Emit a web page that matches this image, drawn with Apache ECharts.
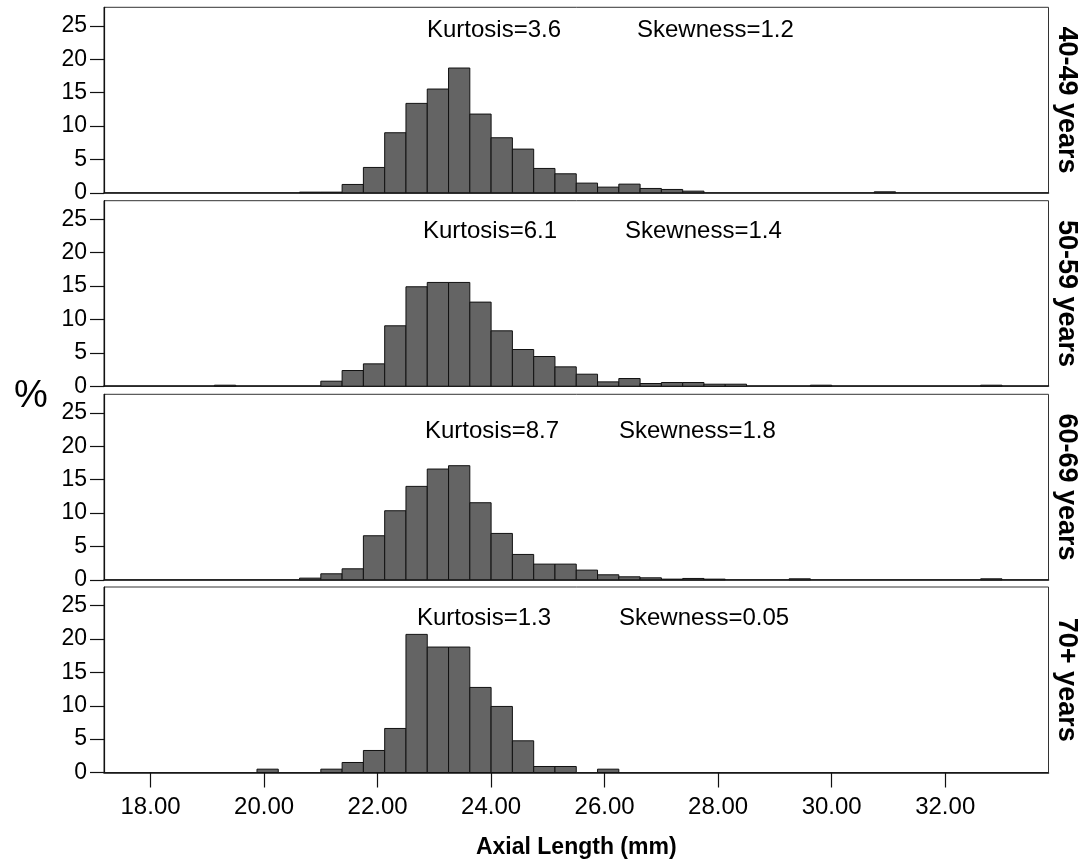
<!DOCTYPE html>
<html><head><meta charset="utf-8">
<script src="https://cdn.jsdelivr.net/npm/echarts@6/dist/echarts.min.js"></script>
<style>html,body{margin:0;padding:0;background:#fff}#c{width:1086px;height:864px}</style>
</head><body><div id="c"></div>
<script>
// ---------- data ----------
const BIN_WIDTH = 0.375;
const panelLabels = ['40-49 years', '50-59 years', '60-69 years', '70+ years'];
const kurtosisTexts = ['Kurtosis=3.6', 'Kurtosis=6.1', 'Kurtosis=8.7', 'Kurtosis=1.3'];
const skewnessTexts = ['Skewness=1.2', 'Skewness=1.4', 'Skewness=1.8', 'Skewness=0.05'];
const xTickValues = [18, 20, 22, 24, 26, 28, 30, 32];
const xTickLabels = ['18.00', '20.00', '22.00', '24.00', '26.00', '28.00', '30.00', '32.00'];
const yTickValues = [0, 5, 10, 15, 20, 25];
const xAxisTitle = 'Axial Length (mm)';
const yAxisTitle = '%';

const bins4049 = [20.625, 21.0, 21.375, 21.75, 22.125, 22.5, 22.875, 23.25, 23.625, 24.0, 24.375, 24.75, 25.125, 25.5, 25.875, 26.25, 26.625, 27.0, 27.375, 30.75];
const pct4049  = [0.1, 0.1, 1.25, 3.8, 9.0, 13.4, 15.55, 18.7, 11.8, 8.25, 6.55, 3.65, 2.85, 1.45, 0.85, 1.3, 0.65, 0.5, 0.25, 0.15];

const bins5059 = [19.125, 21.0, 21.375, 21.75, 22.125, 22.5, 22.875, 23.25, 23.625, 24.0, 24.375, 24.75, 25.125, 25.5, 25.875, 26.25, 26.625, 27.0, 27.375, 27.75, 28.125, 29.625, 32.625];
const pct5059  = [0.15, 0.75, 2.35, 3.35, 9.05, 14.9, 15.55, 15.55, 12.6, 8.3, 5.5, 4.45, 2.9, 1.8, 0.65, 1.15, 0.4, 0.55, 0.55, 0.3, 0.3, 0.15, 0.15];

const bins6069 = [20.625, 21.0, 21.375, 21.75, 22.125, 22.5, 22.875, 23.25, 23.625, 24.0, 24.375, 24.75, 25.125, 25.5, 25.875, 26.25, 26.625, 27.0, 27.375, 27.75, 29.25, 32.625];
const pct6069  = [0.25, 0.9, 1.65, 6.6, 10.35, 14.0, 16.6, 17.1, 11.55, 6.95, 3.8, 2.35, 2.35, 1.45, 0.75, 0.45, 0.3, 0.1, 0.2, 0.1, 0.15, 0.15];

const bins70 = [19.875, 21.0, 21.375, 21.75, 22.125, 22.5, 22.875, 23.25, 23.625, 24.0, 24.375, 24.75, 25.125, 25.875];
const pct70  = [0.5, 0.5, 1.5, 3.3, 6.6, 20.7, 18.8, 18.8, 12.75, 9.9, 4.75, 0.9, 0.9, 0.5];

const panelBins = [bins4049, bins5059, bins6069, bins70];
const panelPct = [pct4049, pct5059, pct6069, pct70];

// ---------- layout ----------
const FONT = "'Liberation Sans', Arial, sans-serif";
const gridTops = [7.3, 200.7, 394.3, 587];
const gridHeight = 185.5;
const gridLeft = 104, gridRight = 37.5;
const X_MIN = 17.18, X_MAX = 33.82, Y_MAX = 27.8;
const textCenters = [30, 231, 431, 618.5];
const kurtX = [427, 423, 425, 417];
const skewX = [637, 625, 619, 619];

function renderItem(params, api) {
  const x0 = api.value(0), v = api.value(1);
  const p0 = api.coord([x0, 0]);
  const p1 = api.coord([x0 + BIN_WIDTH, v]);
  return {
    type: 'rect',
    shape: { x: p0[0], y: p1[1], width: p1[0] - p0[0], height: p0[1] - p1[1] },
    style: { fill: '#646464', stroke: '#111', lineWidth: 1 }
  };
}

const grids = [], xAxes = [], yAxes = [], series = [], graphics = [];
for (let i = 0; i < 4; i++) {
  const last = i === 3;
  grids.push({ left: gridLeft, right: gridRight, top: gridTops[i], height: gridHeight,
    show: true, borderColor: '#333', borderWidth: 1, backgroundColor: '#fff' });
  xAxes.push({
    type: 'value', gridIndex: i, min: X_MIN, max: X_MAX,
    axisLine: { show: true, onZero: false, lineStyle: { color: '#111', width: 1.5 } },
    axisTick: { show: last, length: 15, customValues: xTickValues, lineStyle: { color: '#111', width: 1.2 } },
    axisLabel: { show: last, customValues: xTickValues, margin: 23, color: '#000', fontSize: 24, fontFamily: FONT,
      formatter: v => xTickLabels[xTickValues.indexOf(v)] },
    splitLine: { show: false },
    name: last ? xAxisTitle : '', nameLocation: 'middle', nameGap: 64,
    nameTextStyle: { fontSize: 23, fontWeight: 'bold', color: '#000', fontFamily: FONT }
  });
  yAxes.push({
    type: 'value', gridIndex: i, min: 0, max: Y_MAX,
    axisLine: { show: true, lineStyle: { color: '#111', width: 1.2 } },
    axisTick: { show: true, length: 14, customValues: yTickValues, lineStyle: { color: '#111', width: 1.2 } },
    axisLabel: { customValues: yTickValues, margin: 17, color: '#000', fontSize: 23, fontFamily: FONT },
    splitLine: { show: false }
  });
  series.push({
    type: 'custom', xAxisIndex: i, yAxisIndex: i, renderItem: renderItem,
    data: panelBins[i].map((b, j) => [b, panelPct[i][j]]), silent: true
  });
  graphics.push({ type: 'text', x: kurtX[i], y: textCenters[i],
    style: { text: kurtosisTexts[i], fill: '#000', font: '24px ' + FONT, verticalAlign: 'middle', align: 'left' } });
  graphics.push({ type: 'text', x: skewX[i], y: textCenters[i],
    style: { text: skewnessTexts[i], fill: '#000', font: '24px ' + FONT, verticalAlign: 'middle', align: 'left' } });
  graphics.push({ type: 'text', x: 1066, y: gridTops[i] + gridHeight / 2, rotation: -Math.PI / 2,
    style: { text: panelLabels[i], fill: '#000', font: 'bold 27px ' + FONT, verticalAlign: 'middle', align: 'center' } });
}
graphics.push({ type: 'text', x: 31, y: 397,
  style: { text: yAxisTitle, fill: '#000', font: '38px ' + FONT, verticalAlign: 'middle', align: 'center' } });

const chart = echarts.init(document.getElementById('c'), null, { renderer: 'canvas' });
chart.setOption({
  animation: false,
  backgroundColor: '#fff',
  grid: grids, xAxis: xAxes, yAxis: yAxes, series: series, graphic: graphics
});
</script></body></html>
